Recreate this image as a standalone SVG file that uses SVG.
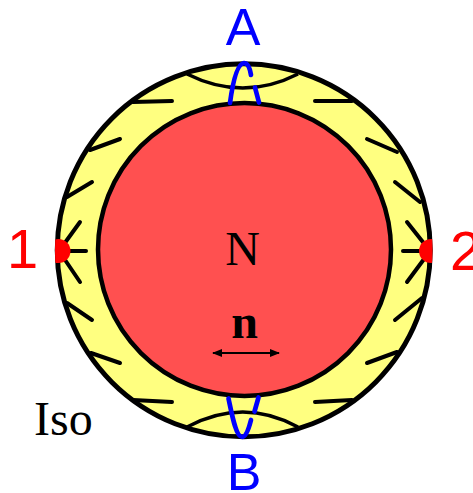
<svg xmlns="http://www.w3.org/2000/svg" width="473" height="493" viewBox="0 0 473 493">
<style>
.tick{stroke:#000;stroke-width:4;stroke-linecap:round;fill:none}
.lens{stroke:#000;stroke-width:3.5;fill:none}
.blue{stroke:#0000FF;stroke-width:4.7;stroke-linecap:round;fill:none}
.lblB{font-family:"Liberation Sans",Arial,sans-serif;font-size:52px;fill:#0000FF;text-anchor:middle}
.lblR{font-family:"Liberation Sans",Arial,sans-serif;font-size:56px;fill:#FF0000}
.ser{font-family:"Liberation Serif","Times New Roman",serif;font-size:48px;fill:#000}
</style>
<defs>
<marker id="ah" viewBox="0 0 10 8" refX="9" refY="4" markerWidth="10" markerHeight="8" markerUnits="userSpaceOnUse" orient="auto-start-reverse">
<path d="M0,0 L10,4 L0,8 Z" fill="#000"/>
</marker>
<clipPath id="outerClip"><circle cx="243.75" cy="250.3" r="188.8"/></clipPath>
</defs>
<g id="shell">
<circle cx="243.75" cy="250.3" r="186.5" fill="#FFFF80" stroke="#000" stroke-width="5"/>
</g>
<g id="core">
<circle cx="244.5" cy="249.5" r="146.5" fill="#FF5050" stroke="#000" stroke-width="4.5"/>
</g>
<g id="lenses">
<path class="lens" d="M187,74 Q243,102 298,74"/>
<path class="lens" d="M187,427 Q243,397 298,427"/>
</g>
<g id="connectors">
<line class="tick" x1="133" y1="102" x2="172" y2="101"/>
<line class="tick" x1="90" y1="150" x2="120" y2="139"/>
<line class="tick" x1="67" y1="197" x2="92" y2="182"/>
<line class="tick" x1="59" y1="251" x2="80" y2="222"/>
<line class="tick" x1="59" y1="251" x2="86" y2="251"/>
<line class="tick" x1="59" y1="251" x2="80" y2="282"/>
<line class="tick" x1="67" y1="303" x2="92" y2="320"/>
<line class="tick" x1="91" y1="353" x2="120" y2="363"/>
<line class="tick" x1="133" y1="400" x2="172" y2="402"/>
<line class="tick" x1="315" y1="101" x2="352" y2="101"/>
<line class="tick" x1="367" y1="139" x2="397" y2="152"/>
<line class="tick" x1="395" y1="182" x2="420" y2="202"/>
<line class="tick" x1="430" y1="251" x2="407" y2="222"/>
<line class="tick" x1="430" y1="251" x2="403" y2="251"/>
<line class="tick" x1="430" y1="251" x2="407" y2="282"/>
<line class="tick" x1="422" y1="298" x2="395" y2="320"/>
<line class="tick" x1="397" y1="352" x2="367" y2="363"/>
<line class="tick" x1="352" y1="400" x2="315" y2="402"/>
<line stroke="#000" stroke-width="2.2" x1="213" y1="353" x2="279" y2="353" marker-start="url(#ah)" marker-end="url(#ah)"/>
</g>
<g id="loopA">
<path class="blue" d="M230,103 C232,88 236,64 244,63 C248,63 250,69 251,75"/>
<path class="blue" d="M255,87.5 L259,102.5"/>
</g>
<g id="loopB">
<path class="blue" d="M228.5,398.5 C232,415 236,437 242,437 C246,437 249,428 251,420"/>
<path class="blue" d="M254.5,411.5 L258.5,397.5"/>
</g>
<g id="defects" clip-path="url(#outerClip)" fill="#FF0000">
<circle id="defect1" cx="58.5" cy="251" r="12"/>
<circle id="defect2" cx="431" cy="251" r="12"/>
</g>
<g id="labels">
<text class="lblB" x="243" y="45">A</text>
<text class="lblB" x="244" y="490">B</text>
<text class="lblR" x="7" y="268">1</text>
<text class="lblR" x="450" y="270">2</text>
<text class="ser" x="242.5" y="265" text-anchor="middle">N</text>
<text class="ser" x="244.5" y="338" text-anchor="middle" font-weight="bold">n</text>
<text class="ser" x="34" y="435">Iso</text>
</g>
</svg>
